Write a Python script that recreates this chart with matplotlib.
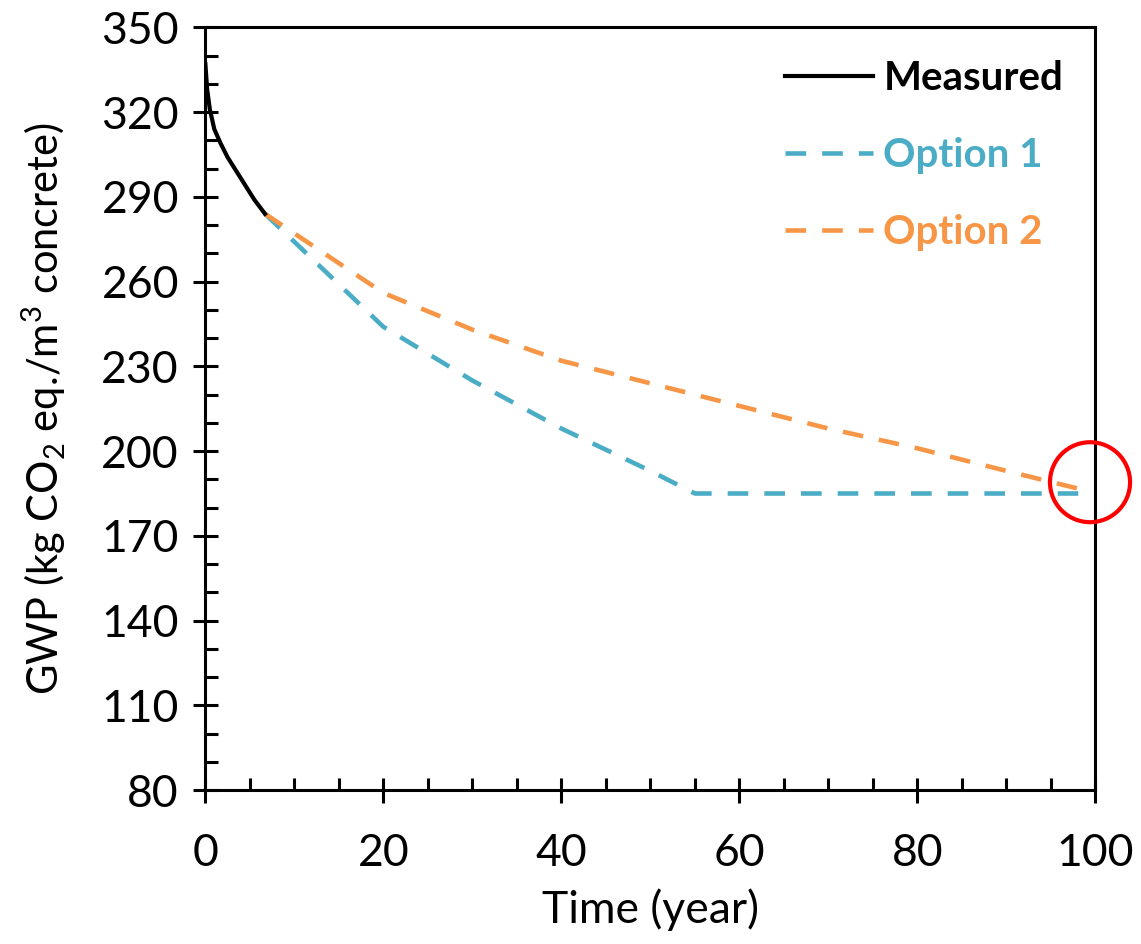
import numpy as np
import matplotlib
matplotlib.use('Agg')
import matplotlib.pyplot as plt
from matplotlib.patches import Ellipse

plt.rcParams['font.family'] = ['Lato', 'DejaVu Sans']
plt.rcParams['mathtext.fontset'] = 'custom'
plt.rcParams['mathtext.rm'] = 'Lato'

# data
t_measured = [0, 0.2, 0.5, 1, 1.7, 2.5, 3.5, 4.5, 5.5, 6.7]
gwp_measured = [337, 328, 321, 314, 309, 304, 299, 294, 289, 284]

t_opt1 = [6.7, 20, 30, 40, 50, 55, 99]
gwp_opt1 = [284, 244, 225, 208, 193, 185, 185]

t_opt2 = [6.7, 20, 30, 40, 50, 60, 70, 80, 90, 99]
gwp_opt2 = [284, 256, 243, 232, 224, 216, 208, 201, 193, 186]

blue = '#4BACC6'
orange = '#F79646'

fig = plt.figure(figsize=(11.41, 9.44), dpi=100)
ax = fig.add_axes([0.18, 0.163, 0.78, 0.808])

ax.plot(t_measured, gwp_measured, color='black', lw=3, label='Measured', zorder=3)
ax.plot(t_opt1, gwp_opt1, color=blue, lw=3.3, dashes=(4.5, 3.5), label='Option 1')
ax.plot(t_opt2, gwp_opt2, color=orange, lw=3.3, dashes=(4.5, 3.5), label='Option 2')

ax.set_xlim(0, 100)
ax.set_ylim(80, 350)
ax.set_xticks(np.arange(0, 101, 20))
ax.set_xticks(np.arange(0, 101, 5), minor=True)
ax.set_yticks(np.arange(80, 351, 30))
ax.set_yticks(np.arange(80, 351, 10), minor=True)
ax.tick_params(which='major', direction='inout', length=18, width=2.2, labelsize=32)
ax.tick_params(axis='y', which='major', pad=10)
ax.tick_params(axis='x', which='major', pad=22)
ax.tick_params(which='minor', direction='in', length=9, width=2.2)
for s in ax.spines.values():
    s.set_linewidth(2.2)

ax.set_xlabel('Time (year)', fontsize=32, labelpad=10)
ax.set_ylabel('GWP (kg CO$_2$ eq./m$^3$ concrete)', fontsize=30, labelpad=24)

leg = ax.legend(loc='upper right', frameon=False, handlelength=2.2,
                handletextpad=0.25, labelspacing=1.0, borderaxespad=0.4,
                prop={'weight': 'bold', 'size': 29})
for txt, c in zip(leg.get_texts(), ['black', blue, orange]):
    txt.set_color(c)

# red marker circle around the end point
ax.add_patch(Ellipse((99.4, 189), 9.0, 28.3, fill=False, edgecolor='red',
                     lw=3, clip_on=False, zorder=5))

fig.savefig('out.png', dpi=100)
